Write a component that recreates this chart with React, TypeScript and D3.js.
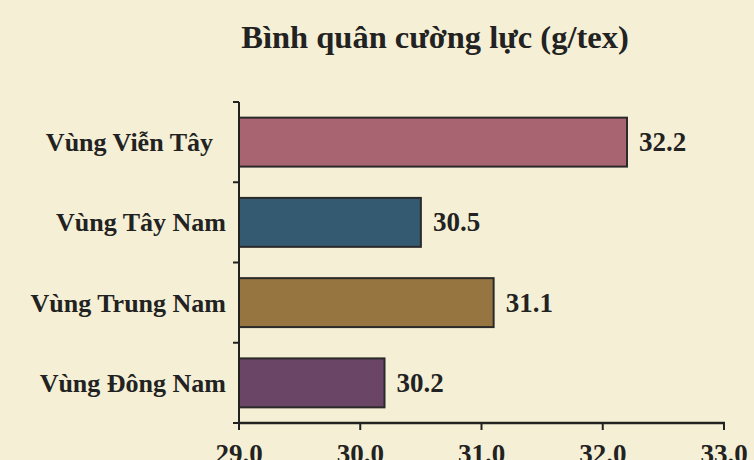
import React from "react";
import * as d3 from "d3";

const categories = ["Vùng Viễn Tây", "Vùng Tây Nam", "Vùng Trung Nam", "Vùng Đông Nam"];
const values = [32.2, 30.5, 31.1, 30.2];
const valueLabels = ["32.2", "30.5", "31.1", "30.2"];
const colors = ["#A86470", "#335A70", "#967540", "#6A4565"];
const xTicks = [29, 30, 31, 32, 33];
const title = "Bình quân cường lực (g/tex)";

const W = 754;
const H = 460;
const FONT = "'Liberation Serif', 'Times New Roman', serif";

export default function App() {
  React.useEffect(() => {
    document.body.style.margin = "0";
  }, []);
  const x = d3.scaleLinear().domain([29, 33]).range([239, 724]);
  const y = d3.scaleBand<string>().domain(categories).range([102, 423]).padding(0);
  const bw = y.bandwidth();
  const barH = bw * 0.61;
  const axisY = 423;
  const axisX = x(29);
  return (
    <svg width={W} height={H} style={{ position: "absolute", left: 0, top: 0, display: "block" }} fontFamily={FONT}>
      <rect x={0} y={0} width={W} height={H} fill="#F5F0D5" />
      <text x={435} y={48} textAnchor="middle" fontSize={32.5} fontWeight="bold" fill="#222">
        {title}
      </text>
      {categories.map((c, i) => {
        const by = (y(c) as number) + (bw - barH) / 2;
        const cy = (y(c) as number) + bw / 2;
        return (
          <g key={c}>
            <rect
              x={axisX}
              y={by}
              width={x(values[i]) - axisX}
              height={barH}
              fill={colors[i]}
              stroke="#2a2a2a"
              strokeWidth={2}
            />
            <text
              x={226}
              y={cy + 9}
              textAnchor="end"
              fontSize={26}
              fontWeight="bold"
              fill="#222"
              style={{ whiteSpace: "pre" }}
            >
              {i === 0 ? c + "  " : c}
            </text>
            <text x={x(values[i]) + 12} y={cy + 9} fontSize={27} fontWeight="bold" fill="#222">
              {valueLabels[i]}
            </text>
          </g>
        );
      })}
      {/* y axis */}
      <line x1={axisX} x2={axisX} y1={102} y2={axisY} stroke="#222" strokeWidth={2} />
      {[...categories.map((c) => y(c) as number), 423].map((t, i) => (
        <line key={"yt" + i} x1={axisX - 6} x2={axisX} y1={t} y2={t} stroke="#222" strokeWidth={2} />
      ))}
      {/* x axis */}
      <line x1={axisX - 1} x2={x(33) + 1} y1={axisY} y2={axisY} stroke="#222" strokeWidth={2.5} />
      {xTicks.map((t) => (
        <g key={"xt" + t}>
          <line x1={x(t)} x2={x(t)} y1={axisY} y2={axisY + 7} stroke="#222" strokeWidth={2} />
          <text x={x(t)} y={463} textAnchor="middle" fontSize={27} fontWeight="bold" fill="#222">
            {t.toFixed(1)}
          </text>
        </g>
      ))}
    </svg>
  );
}
